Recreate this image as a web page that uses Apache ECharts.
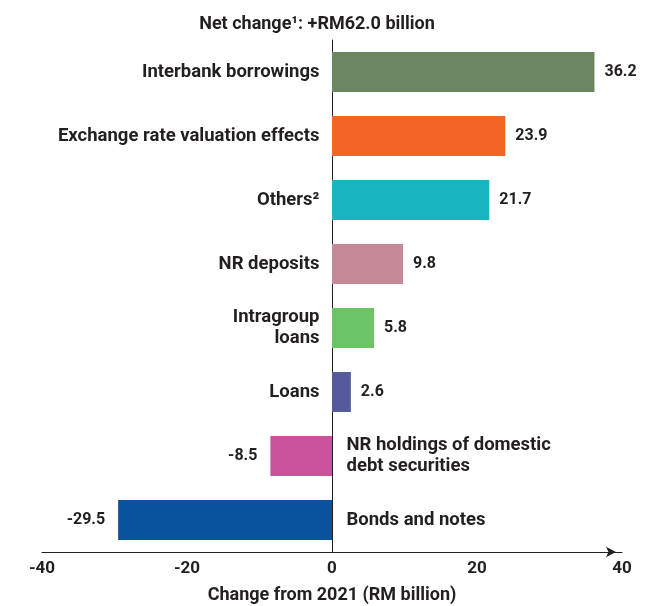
<!DOCTYPE html>
<html>
<head>
<meta charset="utf-8">
<script src="https://cdn.jsdelivr.net/npm/echarts@6/dist/echarts.min.js"></script>
<style>html,body{margin:0;padding:0;background:#fff;}#c{width:649px;height:606px;}</style>
</head>
<body>
<div id="c"></div>
<script>
const categories = ['Interbank borrowings', 'Exchange rate valuation effects', 'Others\u00B2', 'NR deposits', 'Intragroup\nloans', 'Loans', 'NR holdings of domestic\ndebt securities', 'Bonds and notes'];
const values = [36.2, 23.9, 21.7, 9.8, 5.8, 2.6, -8.5, -29.5];
const xTicks = [-40, -20, 0, 20, 40];
const titleText = 'Net change\u00B9: +RM62.0 billion';
const xName = 'Change from 2021 (RM billion)';
const palette = ['#6b8660', '#f26522', '#17b6c0', '#c48a98', '#6bc465', '#545a9c', '#c9529a', '#0a529b'];

const FONT = 'Roboto';
const TXT = '#231f20';

const chart = echarts.init(document.getElementById('c'), null, {renderer: 'canvas'});
chart.setOption({
  animation: false,
  title: {
    text: titleText, left: 312, top: 10, textAlign: 'center',
    textStyle: {fontFamily: FONT, fontSize: 18, fontWeight: 'bold', color: TXT}
  },
  grid: {left: 42, right: 27, top: 40, bottom: 54, containLabel: false, outerBoundsMode: 'none'},
  xAxis: {
    type: 'value', min: xTicks[0], max: xTicks[xTicks.length - 1], interval: 20,
    splitLine: {show: false}, axisTick: {show: false},
    axisLine: {show: true, lineStyle: {color: '#231f20', width: 1}, symbol: ['none', 'arrow'], symbolSize: [8, 10], symbolOffset: [0, -6]},
    axisLabel: {fontFamily: FONT, fontSize: 17, fontWeight: 'bold', color: TXT, margin: 8},
    name: xName, nameLocation: 'middle', nameGap: 34,
    nameTextStyle: {fontFamily: FONT, fontSize: 18, fontWeight: 'bold', color: TXT}
  },
  yAxis: {
    type: 'category', data: categories, inverse: true,
    axisLine: {show: true, onZero: true, lineStyle: {color: '#231f20', width: 1}},
    axisTick: {show: false}, axisLabel: {show: false}, splitLine: {show: false}
  },
  series: [
    {
      type: 'bar', barWidth: 40,
      data: values.map((v, i) => ({
        value: v,
        itemStyle: {color: palette[i]},
        label: {position: v >= 0 ? 'right' : 'left', distance: v >= 0 ? 10 : 13}
      })),
      label: {
        show: true, fontFamily: FONT, fontSize: 16, fontWeight: 'bold', color: TXT,
        formatter: p => p.value.toFixed(1)
      },
      z: 2
    },
    {
      type: 'scatter', symbolSize: 1, itemStyle: {color: 'rgba(255,255,255,0)', opacity: 1}, silent: true,
      emphasis: {disabled: true},
      data: values.map((v, i) => ({
        value: [0, categories[i]],
        label: {position: v >= 0 ? 'left' : 'right', distance: v >= 0 ? 12 : 14, align: v >= 0 ? 'right' : 'left'}
      })),
      label: {
        show: true, fontFamily: FONT, fontSize: 18.5, fontWeight: 'bold', color: TXT, lineHeight: 21,
        opacity: 1, textBorderWidth: 0,
        formatter: p => categories[p.dataIndex]
      },
      z: 3
    }
  ]
});
</script>
</body>
</html>
